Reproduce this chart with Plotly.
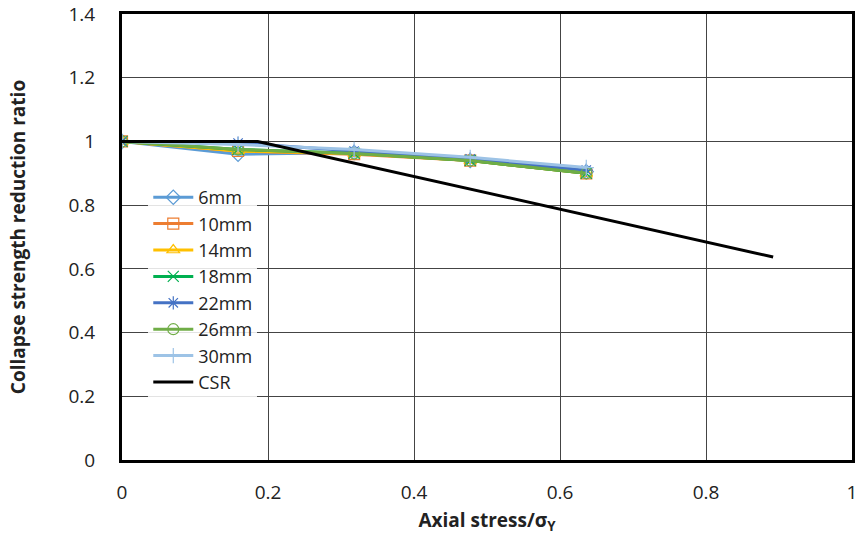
import plotly.graph_objects as go

x_vals = [0, 0.159, 0.318, 0.477, 0.636]
s6 = [1.0, 0.960, 0.965, 0.940, 0.905]
s10 = [1.0, 0.970, 0.960, 0.940, 0.900]
s14 = [1.0, 0.970, 0.962, 0.940, 0.900]
s18 = [1.0, 0.975, 0.963, 0.940, 0.900]
s22 = [1.0, 0.995, 0.970, 0.945, 0.910]
s26 = [1.0, 0.975, 0.962, 0.940, 0.900]
s30 = [1.0, 0.990, 0.975, 0.950, 0.918]
csr_x = [0, 0.186, 0.892]
csr_y = [1.0, 1.0, 0.637]

series = [
    ("6mm", s6, "#5b9bd5", "diamond-open"),
    ("10mm", s10, "#ed7d31", "square-open"),
    ("14mm", s14, "#ffc000", "triangle-up-open"),
    ("18mm", s18, "#00b050", "x-thin-open"),
    ("22mm", s22, "#4472c4", "asterisk-open"),
    ("26mm", s26, "#70ad47", "circle-open"),
    ("30mm", s30, "#9dc3e6", "cross-thin-open"),
]

fig = go.Figure()
for name, ys, col, sym in series:
    fig.add_trace(go.Scatter(
        x=x_vals, y=ys, name=name, mode="lines+markers",
        line=dict(color=col, width=3),
        marker=dict(symbol=sym, size=11, color=col, line=dict(color=col, width=1.2)),
    ))
fig.add_trace(go.Scatter(x=csr_x, y=csr_y, name="CSR", mode="lines",
                         line=dict(color="black", width=3)))

font = "Open Sans, sans-serif"
fig.update_layout(
    width=862, height=544,
    margin=dict(l=122, r=10, t=14, b=84, autoexpand=False),
    plot_bgcolor="white", paper_bgcolor="white",
    font=dict(family=font, size=19, color="#222"),
    showlegend=True,
    legend=dict(x=0.036, y=0.63, xanchor="left", yanchor="top",
                bgcolor="rgba(255,255,255,0.85)", font=dict(size=18, color="#222"),
                tracegroupgap=0, itemwidth=40),
    xaxis=dict(range=[0, 1], tickvals=[0, 0.2, 0.4, 0.6, 0.8, 1],
               ticktext=["0", "0.2", "0.4", "0.6", "0.8", "1"],
               showgrid=True, gridcolor="#444", gridwidth=1,
               showline=True, linecolor="black", linewidth=3, mirror=True,
               zeroline=False, ticks="", automargin=False, ticklabelstandoff=13,
               title=dict(text="<b>Axial stress/σ<sub>Y</sub></b>", font=dict(size=19), standoff=10)),
    yaxis=dict(range=[0, 1.4], tickvals=[0, 0.2, 0.4, 0.6, 0.8, 1, 1.2, 1.4],
               ticktext=["0", "0.2", "0.4", "0.6", "0.8", "1", "1.2", "1.4"],
               showgrid=True, gridcolor="#444", gridwidth=1,
               showline=True, linecolor="black", linewidth=3, mirror=True,
               zeroline=False, ticks="", automargin=False, ticklabelstandoff=20,
               title=dict(text="<b>Collapse strength reduction ratio</b>", font=dict(size=19), standoff=38)),
)
fig.write_html("out.html")
